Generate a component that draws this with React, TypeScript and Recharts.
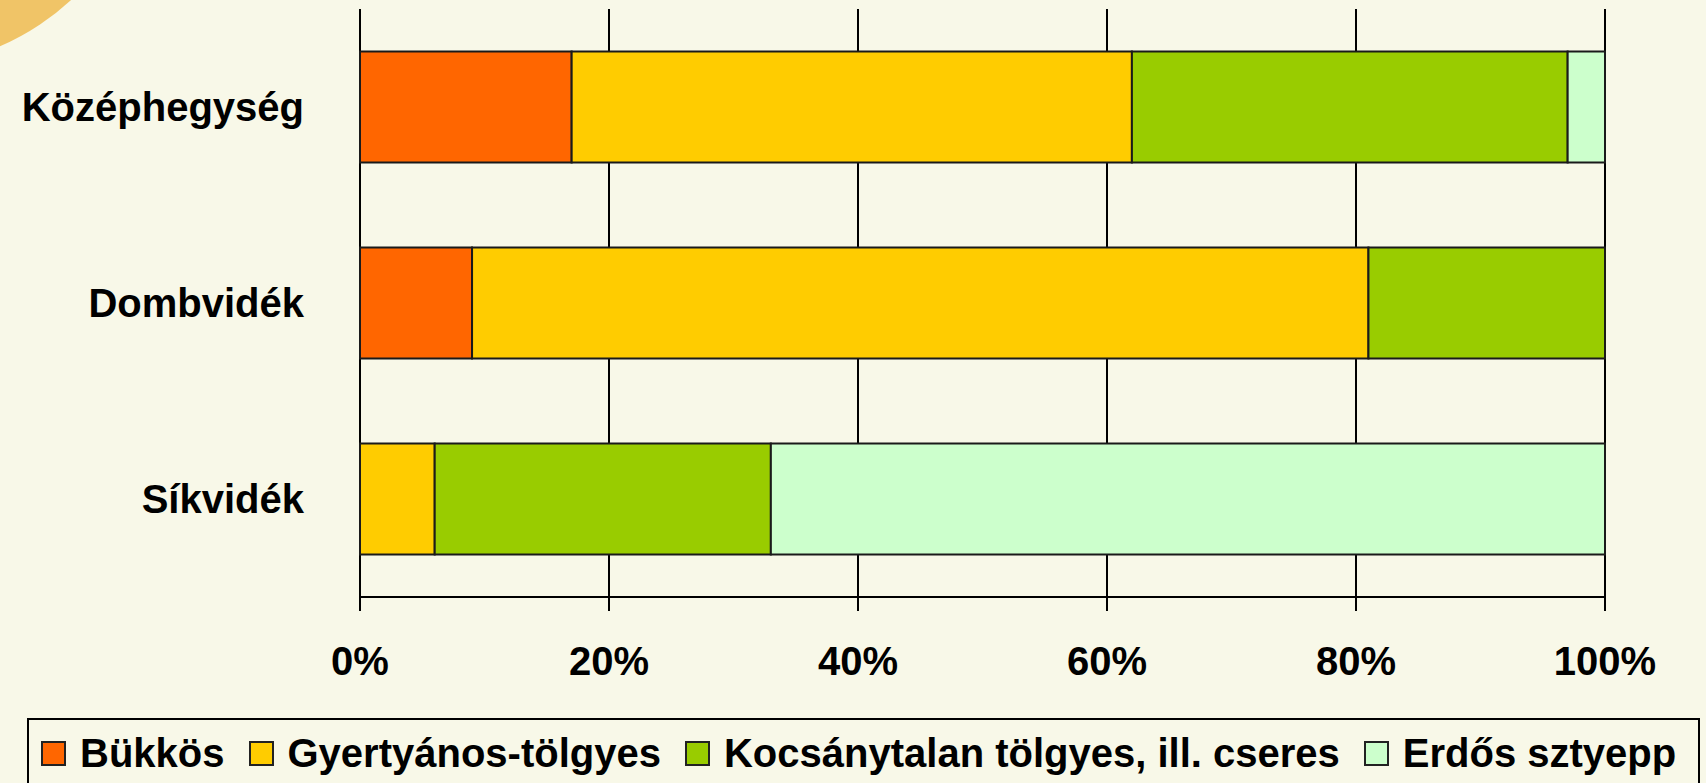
import { BarChart, Bar, XAxis, YAxis, CartesianGrid, Legend, ReferenceLine } from "recharts";

const categories = ["Középhegység", "Dombvidék", "Síkvidék"];
const bukkos = [17, 9, 0];
const gyertyanos = [45, 72, 6];
const kocsanytalan = [35, 19, 27];
const erdos = [3, 0, 67];
const xTicks = [0, 20, 40, 60, 80, 100];
const bandEdges = [0, 1, 2, 3];

const series = [
  { key: "bukkos", name: "Bükkös", color: "#FF6600" },
  { key: "gyertyanos", name: "Gyertyános-tölgyes", color: "#FFCC00" },
  { key: "kocsanytalan", name: "Kocsánytalan tölgyes, ill. cseres", color: "#99CC00" },
  { key: "erdos", name: "Erdős sztyepp", color: "#CCFFCC" },
];

const data = categories.map((name, i) => ({
  name,
  bukkos: bukkos[i],
  gyertyanos: gyertyanos[i],
  kocsanytalan: kocsanytalan[i],
  erdos: erdos[i],
}));

const FONT = "'Liberation Sans', Arial, sans-serif";
const BG = "#F8F8E8";
const labelStyle = { fill: "#000", fontSize: 40, fontWeight: "bold", fontFamily: FONT };

// legend keeps the series order (recharts sorts its payload by name)
const LegendBox = () => (
  <div
    style={{
      border: "2px solid #000",
      background: BG,
      height: 74,
      boxSizing: "border-box",
      display: "flex",
      alignItems: "flex-start",
      paddingLeft: 12,
      paddingTop: 10,
      fontFamily: FONT,
      fontWeight: "bold",
      fontSize: 40,
      lineHeight: "46px",
      color: "#000",
      whiteSpace: "nowrap",
    }}
  >
    {series.map((s) => (
      <span key={s.key} style={{ display: "flex", alignItems: "center", marginRight: 24 }}>
        <span
          style={{
            width: 25,
            height: 25,
            boxSizing: "border-box",
            border: "2px solid #222",
            background: s.color,
            marginRight: 14,
            display: "inline-block",
          }}
        />
        {s.name}
      </span>
    ))}
  </div>
);

export default function App() {
  return (
    <div style={{ position: "absolute", left: 0, top: 0, width: 1706, height: 783, background: BG, overflow: "hidden" }}>
      <div
        style={{
          position: "absolute",
          left: -352,
          top: -437,
          width: 504,
          height: 504,
          borderRadius: "50%",
          background: "radial-gradient(circle, #F0C467 80%, #F5DCA0 95%, #F8F8E8 100%)",
        }}
      />
      <BarChart
        width={1706}
        height={783}
        data={data}
        layout="vertical"
        barCategoryGap="21.7%"
        margin={{ top: 9, right: 101, bottom: 126, left: 0 }}
        style={{ position: "relative" }}
      >
        <CartesianGrid vertical horizontal={false} stroke="#000" strokeWidth={2} xAxisId={0} yAxisId={0} />
        <YAxis
          yAxisId={0}
          type="number"
          domain={[0, 3]}
          ticks={bandEdges}
          reversed
          allowDataOverflow
          width={0}
          tick={false}
          tickSize={14}
          tickLine={{ stroke: "#000", strokeWidth: 2 }}
          axisLine={{ stroke: "#000", strokeWidth: 2 }}
        />
        <YAxis
          yAxisId={1}
          type="category"
          dataKey="name"
          width={360}
          tickLine={false}
          axisLine={false}
          tickSize={0}
          tickMargin={56}
          tick={labelStyle}
        />
        <XAxis
          xAxisId={0}
          type="number"
          domain={[0, 100]}
          ticks={xTicks}
          tickFormatter={(v) => `${v}%`}
          height={60}
          tickSize={14}
          tickMargin={36}
          tick={labelStyle}
          tickLine={{ stroke: "#000", strokeWidth: 2 }}
          axisLine={{ stroke: "#000", strokeWidth: 2 }}
        />
        <ReferenceLine yAxisId={0} xAxisId={0} y={0} stroke="#000" strokeWidth={2} />
        {series.map((s) => (
          <Bar
            key={s.key}
            dataKey={s.key}
            name={s.name}
            stackId="a"
            fill={s.color}
            stroke="#1a1a1a"
            strokeWidth={2}
            xAxisId={0}
            yAxisId={1}
            isAnimationActive={false}
          />
        ))}
        <Legend
          layout="horizontal"
          verticalAlign="middle"
          align="center"
          content={<LegendBox />}
          wrapperStyle={{ left: 27, top: 718, width: 1673, height: 74, bottom: "auto" }}
        />
      </BarChart>
    </div>
  );
}
